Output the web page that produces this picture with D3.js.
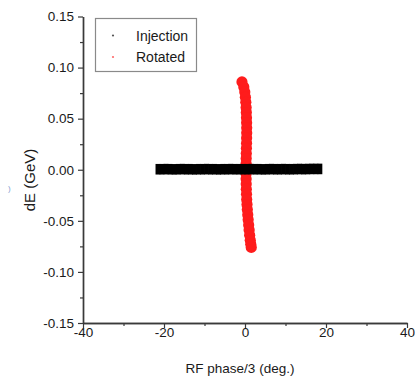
<!DOCTYPE html>
<html>
<head>
<meta charset="utf-8">
<script src="https://cdn.jsdelivr.net/npm/d3@7"></script>
<style>
  body { margin: 0; background: #fff; }
  svg text { font-family: "Liberation Sans", Arial, sans-serif; fill: #1a1a1a; }
</style>
</head>
<body>
<svg id="chart" width="415" height="382"></svg>
<script>
// injection beam: centre line of the horizontal band (deg, GeV)
var injX = [-21.5, -20.5, -19.5, -18.5, -17.5, -16.5, -15.5, -14.5, -13.5, -12.5, -11.5,
            -10.5, -9.5, -8.5, -7.5, -6.5, -5.5, -4.5, -3.5, -2.5, -1.5, -0.5,
            0.5, 1.5, 2.5, 3.5, 4.5, 5.5, 6.5, 7.5, 8.5, 9.5, 10.5, 11.5, 12.5,
            13.5, 14.5, 15.5, 16.5, 17.5, 18.5];
var injY = [0.0005, 0.0005, 0.0006, 0.0005, 0.0004, 0.0005, 0.0006, 0.0005, 0.0005, 0.0004, 0.0005,
            0.0005, 0.0006, 0.0005, 0.0005, 0.0004, 0.0005, 0.0005, 0.0006, 0.0005, 0.0005, 0.0005,
            0.0005, 0.0006, 0.0005, 0.0005, 0.0004, 0.0005, 0.0006, 0.0005, 0.0005, 0.0006, 0.0005,
            0.0005, 0.0006, 0.0007, 0.0006, 0.0007, 0.0008, 0.0008, 0.0008];

// rotated beam: centre line of the near-vertical band
var rotY = [0.086, 0.081, 0.076, 0.071, 0.066, 0.061, 0.056, 0.051, 0.046, 0.041, 0.036,
            0.031, 0.026, 0.021, 0.016, 0.011, 0.006, 0.001, -0.004, -0.009, -0.014,
            -0.019, -0.024, -0.029, -0.034, -0.039, -0.044, -0.049, -0.054, -0.059,
            -0.064, -0.069, -0.073, -0.076];
var rotX = [-0.75, -0.3, -0.05, 0.1, 0.2, 0.28, 0.33, 0.37, 0.4, 0.42, 0.42,
            0.4, 0.38, 0.35, 0.32, 0.3, 0.28, 0.27, 0.27, 0.28, 0.3,
            0.33, 0.37, 0.42, 0.5, 0.58, 0.68, 0.78, 0.9, 1.02,
            1.15, 1.3, 1.42, 1.55];

var xTicks = [-40, -20, 0, 20, 40];
var xMinor = [-30, -10, 10, 30];
var yTicks = [-0.15, -0.10, -0.05, 0.00, 0.05, 0.10, 0.15];
var yMinor = [-0.125, -0.075, -0.025, 0.025, 0.075, 0.125];
var seriesNames = ["Injection", "Rotated"];
var seriesColors = ["#000000", "#ff1c1c"];

var svg = d3.select("#chart");

var x = d3.scaleLinear().domain([-40, 40]).range([83, 407]);
var y = d3.scaleLinear().domain([-0.15, 0.15]).range([323, 16.5]);

// rotated band first, injection drawn over it
svg.append("g").selectAll("circle")
    .data(d3.range(rotY.length))
    .enter().append("circle")
    .attr("cx", function(i) { return x(rotX[i]); })
    .attr("cy", function(i) { return y(rotY[i]); })
    .attr("r", 5.6)
    .attr("fill", seriesColors[1]);

svg.append("g").selectAll("rect")
    .data(d3.range(injX.length))
    .enter().append("rect")
    .attr("x", function(i) { return x(injX[i]) - 2.4; })
    .attr("y", function(i) { return y(injY[i]) - 5.3; })
    .attr("width", 4.8)
    .attr("height", 10.6)
    .attr("fill", seriesColors[0]);

// axes
var xAxis = svg.append("g").attr("transform", "translate(0,323)")
    .call(d3.axisBottom(x).tickValues(xTicks).tickSize(5).tickSizeOuter(0).tickPadding(-1).tickFormat(d3.format("d")));
var xAxisMinor = svg.append("g").attr("transform", "translate(0,323)")
    .call(d3.axisBottom(x).tickValues(xMinor).tickSize(3).tickSizeOuter(0).tickFormat(""));
var yAxis = svg.append("g").attr("transform", "translate(83,0)")
    .call(d3.axisLeft(y).tickValues(yTicks).tickSize(5).tickSizeOuter(0).tickPadding(4).tickFormat(d3.format(".2f")));
var yAxisMinor = svg.append("g").attr("transform", "translate(83,0)")
    .call(d3.axisLeft(y).tickValues(yMinor).tickSize(3).tickSizeOuter(0).tickFormat(""));

svg.selectAll(".domain").attr("stroke", "#3a3a3a").attr("stroke-width", 1.4);
svg.selectAll(".tick line").attr("stroke", "#3a3a3a").attr("stroke-width", 1.2);
svg.selectAll(".tick text").attr("font-size", "13.5px").attr("fill", "#1a1a1a")
    .attr("font-family", "Liberation Sans, Arial, sans-serif");
yAxis.selectAll(".tick text").text(function(d) { return d3.format(".2f")(d).replace("−", "-"); });
xAxis.selectAll(".tick text").text(function(d) { return String(d); });

// axis titles
svg.append("text")
    .attr("x", 240).attr("y", 373)
    .attr("text-anchor", "middle")
    .attr("font-size", "13.5px")
    .text("RF phase/3 (deg.)");

svg.append("text")
    .attr("transform", "translate(35,180) rotate(-90)")
    .attr("text-anchor", "middle")
    .attr("font-size", "15px")
    .text("dE (GeV)");

// stray mark at the left edge
svg.append("text")
    .attr("x", 8).attr("y", 191)
    .attr("font-size", "8px")
    .style("fill", "#7f9cd0")
    .text(")");

// legend
var legend = svg.append("g");
legend.append("rect")
    .attr("x", 95.5).attr("y", 18.5)
    .attr("width", 101).attr("height", 53)
    .attr("fill", "#fff")
    .attr("stroke", "#8a8a8a")
    .attr("stroke-width", 1.2);

seriesNames.forEach(function(name, i) {
    legend.append("circle")
        .attr("cx", 113).attr("cy", 35.5 + i * 21.5)
        .attr("r", 1.1)
        .attr("fill", i == 0 ? "#555" : "#ff6b6b");
    legend.append("text")
        .attr("x", 136).attr("y", 40.5 + i * 21.5)
        .attr("font-size", "14px")
        .text(name);
});
</script>
</body>
</html>
